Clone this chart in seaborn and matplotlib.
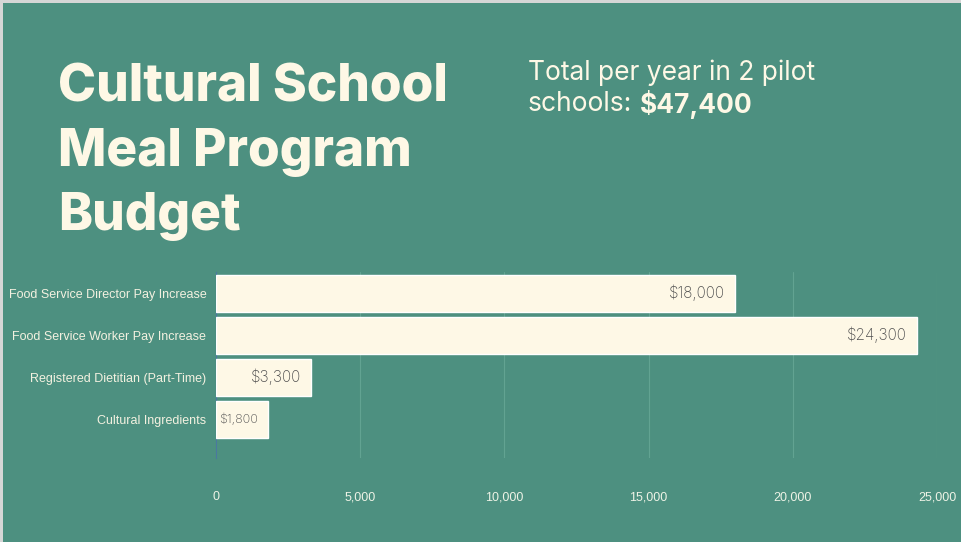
import pandas as pd
import matplotlib.pyplot as plt
import seaborn as sb
from matplotlib.patches import Rectangle

items = ["Food Service Director Pay Increase", "Food Service Worker Pay Increase",
         "Registered Dietitian (Part-Time)", "Cultural Ingredients"]
costs = [18000, 24300, 3300, 1800]
cost_labels = ["$18,000", "$24,300", "$3,300", "$1,800"]
label_sizes = [11, 11, 11, 9]
xticks = [0, 5000, 10000, 15000, 20000, 25000]

bg = "#4d9080"
cream = "#fef8e6"

data = pd.DataFrame({"item": items, "cost": costs})

sb.set_style("white")
fig = plt.figure(figsize=(9.61, 5.42), dpi=100, facecolor="#d6d6d6")
fig.add_artist(Rectangle((3 / 961, 0), 1, 1 - 3 / 542, transform=fig.transFigure,
                         facecolor=bg, edgecolor="none", zorder=-10))

ax = fig.add_axes([216 / 961, 1 - 458 / 542, (937 - 216) / 961, (458 - 272) / 542])
ax.set_facecolor(bg)
sb.barplot(data=data, x="cost", y="item", orient="h", color=cream, width=0.88,
           saturation=1, ax=ax, zorder=3)
ax.set_xlim(0, 25000)
ax.set_ylim(3.92, -0.5)

for sp in ["top", "right", "bottom"]:
    ax.spines[sp].set_visible(False)
ax.spines["left"].set_color("#4a78a0")
ax.spines["left"].set_linewidth(0.8)
ax.spines["left"].set_zorder(1)

ax.set_xticks(xticks)
ax.set_xticklabels([f"{t:,}" for t in xticks], fontsize=9, color="#eef3e6",
                   family="Liberation Sans")
ax.tick_params(axis="x", length=0, pad=24)
ax.tick_params(axis="y", length=0, pad=7, labelsize=9, labelcolor="#f3f1e0")
for lab in ax.get_yticklabels():
    lab.set_family("Liberation Sans")
ax.grid(axis="x", color="#62a392", linewidth=0.8, zorder=0)
ax.set_axisbelow(True)
ax.set_xlabel("")
ax.set_ylabel("")

for i, (v, txt) in enumerate(zip(costs, cost_labels)):
    ax.text(v - 350, i, txt, ha="right", va="center", fontsize=label_sizes[i],
            color="#505050", family="Inter", fontweight="light", zorder=4)

fig.text(58 / 961, 1 - 64 / 542, "Cultural School\nMeal Program\nBudget",
         ha="left", va="top", fontsize=37, fontweight="heavy", color=cream,
         family="Inter", linespacing=1.4)

fig.text(528 / 961, 1 - 73 / 542, "Total per year in 2 pilot",
         ha="left", va="center", fontsize=19, color=cream, family="Inter")
t2 = fig.text(528 / 961, 1 - 104 / 542, "schools:",
              ha="left", va="center", fontsize=19, color=cream, family="Inter")
fig.canvas.draw()
bb = t2.get_window_extent()
fig.text(bb.x1 / fig.bbox.width + 8 / 961, 1 - 104 / 542, "$47,400", ha="left", va="center",
         fontsize=19, fontweight="bold", color=cream, family="Inter")

fig.savefig("out.png", dpi=100, facecolor=fig.get_facecolor())
